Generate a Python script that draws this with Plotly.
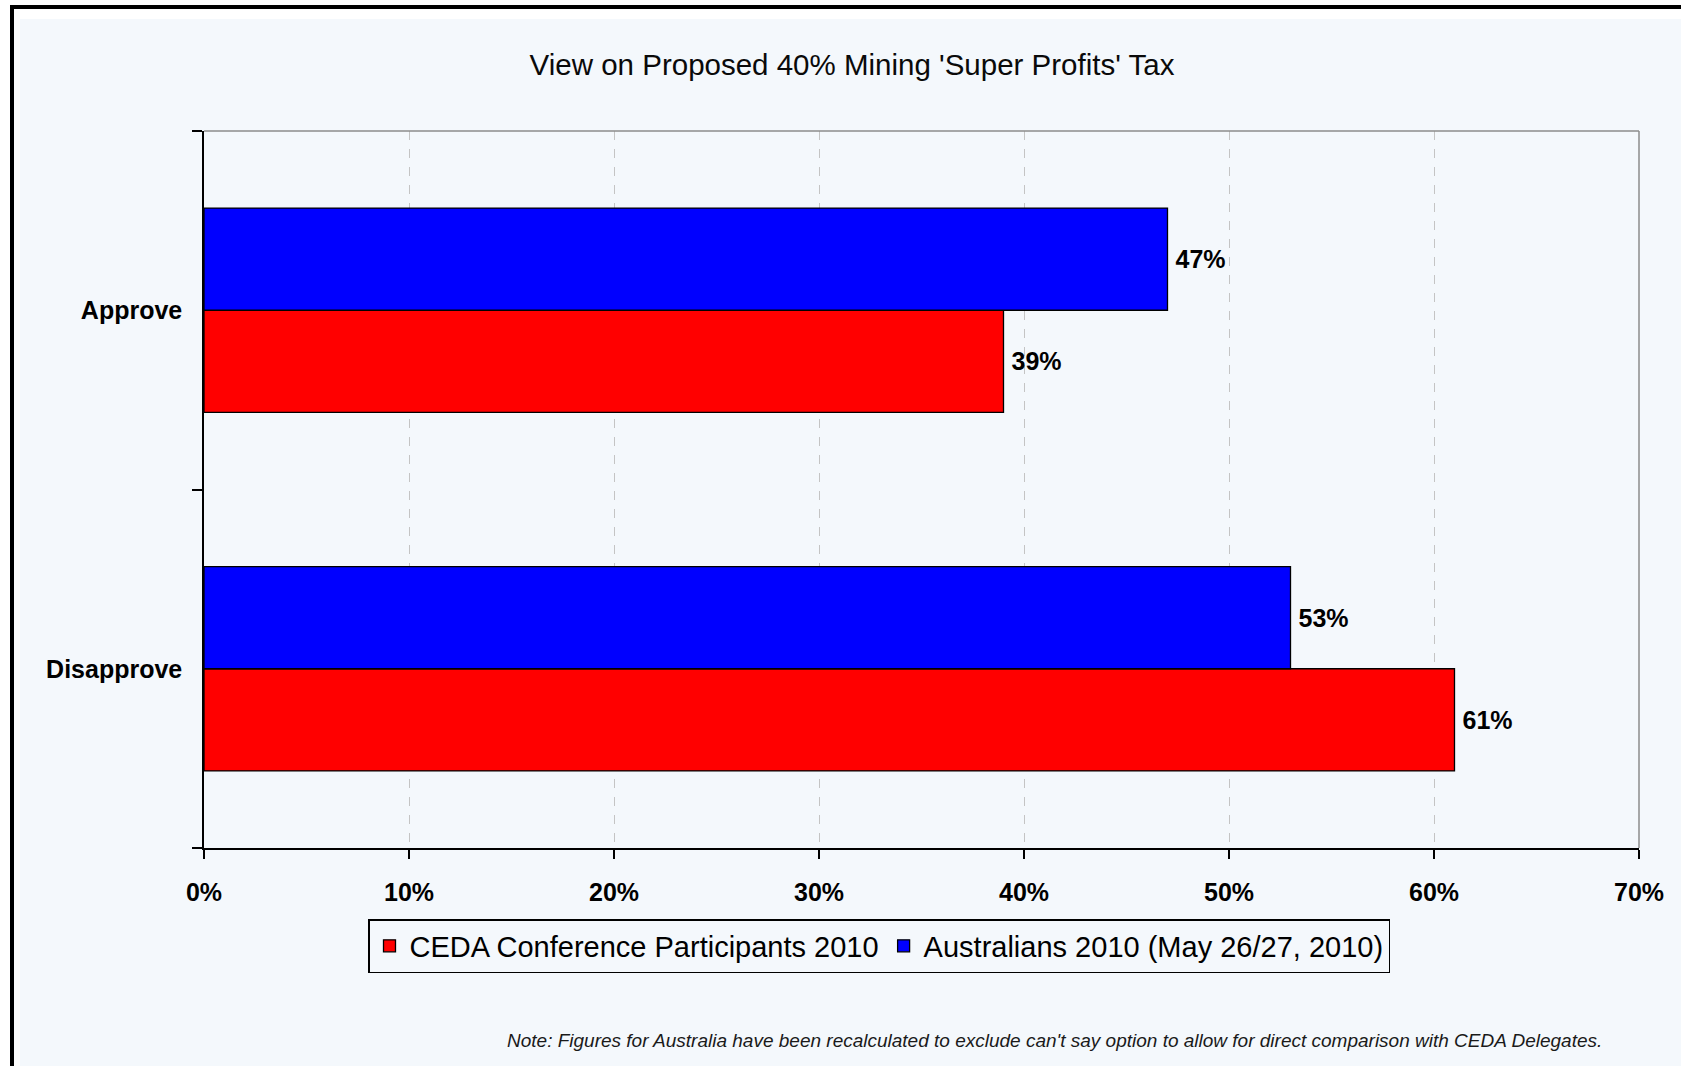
import plotly.graph_objects as go

categories = ["Disapprove", "Approve"]
ceda_values = [61, 39]
aus_values = [53, 47]
series_names = ["CEDA Conference Participants 2010", "Australians 2010 (May 26/27, 2010)"]
x_tick_values = [0, 10, 20, 30, 40, 50, 60, 70]
x_tick_labels = ["0%", "10%", "20%", "30%", "40%", "50%", "60%", "70%"]

W, H = 1681, 1066
L, R, T, B = 204, 1639, 131, 848
PW, PH = R - L, B - T
BG = "#F4F8FC"
FONT = "Liberation Sans, Arial, sans-serif"


def px(x):
    return (x - L) / PW


def py(y):
    return (B - y) / PH


fig = go.Figure()
fig.add_trace(go.Bar(
    y=categories, x=ceda_values, name=series_names[0], orientation="h",
    marker=dict(color="#FF0000", line=dict(color="black", width=1.3)),
    text=[f"\u2009{v}%" for v in ceda_values], textposition="outside", cliponaxis=False,
    textfont=dict(family=FONT, size=25, color="black", weight="bold"),
))
fig.add_trace(go.Bar(
    y=categories, x=aus_values, name=series_names[1], orientation="h",
    marker=dict(color="#0000FF", line=dict(color="black", width=1.3)),
    text=[f"\u2009{v}%" for v in aus_values], textposition="outside", cliponaxis=False,
    textfont=dict(family=FONT, size=25, color="black", weight="bold"),
))

shapes = [
    dict(type="rect", xref="paper", yref="paper", x0=px(20), x1=px(W + 10), y0=py(19), y1=py(H + 10),
         fillcolor=BG, line=dict(width=0), layer="below"),
    dict(type="line", xref="paper", yref="paper", x0=px(12), x1=px(12), y0=py(5), y1=py(H + 10),
         line=dict(color="black", width=4), layer="above"),
    dict(type="line", xref="paper", yref="paper", x0=px(10), x1=px(W + 10), y0=py(7), y1=py(7),
         line=dict(color="black", width=4), layer="above"),
    dict(type="line", xref="paper", yref="paper", x0=0, x1=1, y0=1, y1=1,
         line=dict(color="#8C8C8C", width=1.5), layer="above"),
    dict(type="line", xref="paper", yref="paper", x0=1, x1=1, y0=0, y1=1,
         line=dict(color="#8C8C8C", width=1.5), layer="above"),
]

fig.update_layout(
    width=W, height=H,
    margin=dict(l=L, r=W - R, t=T, b=H - B, pad=0),
    paper_bgcolor="white", plot_bgcolor=BG,
    barmode="group", bargap=0.43, bargroupgap=0,
    font=dict(family=FONT, color="black"),
    title=dict(text="View on Proposed 40% Mining 'Super Profits' Tax",
               x=852 / W, xanchor="center", xref="container",
               y=1 - 65 / H, yanchor="middle", yref="container",
               font=dict(family=FONT, size=29.5, color="#0A0A0A")),
    xaxis=dict(range=[0, 70], tickvals=x_tick_values, ticktext=x_tick_labels,
               showgrid=True, gridcolor="#C4C4C4", griddash="dash", gridwidth=1,
               showline=True, linecolor="black", linewidth=1.5,
               ticks="outside", ticklen=9, tickcolor="black", tickwidth=1.5,
               ticklabelstandoff=12,
               tickfont=dict(family=FONT, size=25, color="black", weight="bold"),
               zeroline=False, fixedrange=True),
    yaxis=dict(categoryorder="array", categoryarray=categories,
               showline=True, linecolor="black", linewidth=1.5,
               ticks="outside", ticklen=10, tickcolor="black", tickwidth=1.5,
               tickson="boundaries", showgrid=False, ticklabelstandoff=15,
               tickfont=dict(family=FONT, size=25, color="black", weight="bold"),
               fixedrange=True),
    legend=dict(orientation="h", x=px(879), xanchor="center", y=py(919), yanchor="top",
                xref="paper", yref="paper",
                bgcolor=BG, bordercolor="black", borderwidth=1.5,
                font=dict(family=FONT, size=29, color="black"),
                itemwidth=30, traceorder="normal", tracegroupgap=0),
    shapes=shapes,
    annotations=[dict(
        text="<i>Note: Figures for Australia have been recalculated to exclude can't say option to allow for direct comparison with CEDA Delegates.</i>",
        xref="paper", yref="paper", x=px(1604), y=py(1040), xanchor="right", yanchor="middle",
        showarrow=False, font=dict(family=FONT, size=19, color="#1A1A1A"))],
)

fig.write_html("out.html", config={"displayModeBar": False},
               post_script="document.body.style.margin='0';")
